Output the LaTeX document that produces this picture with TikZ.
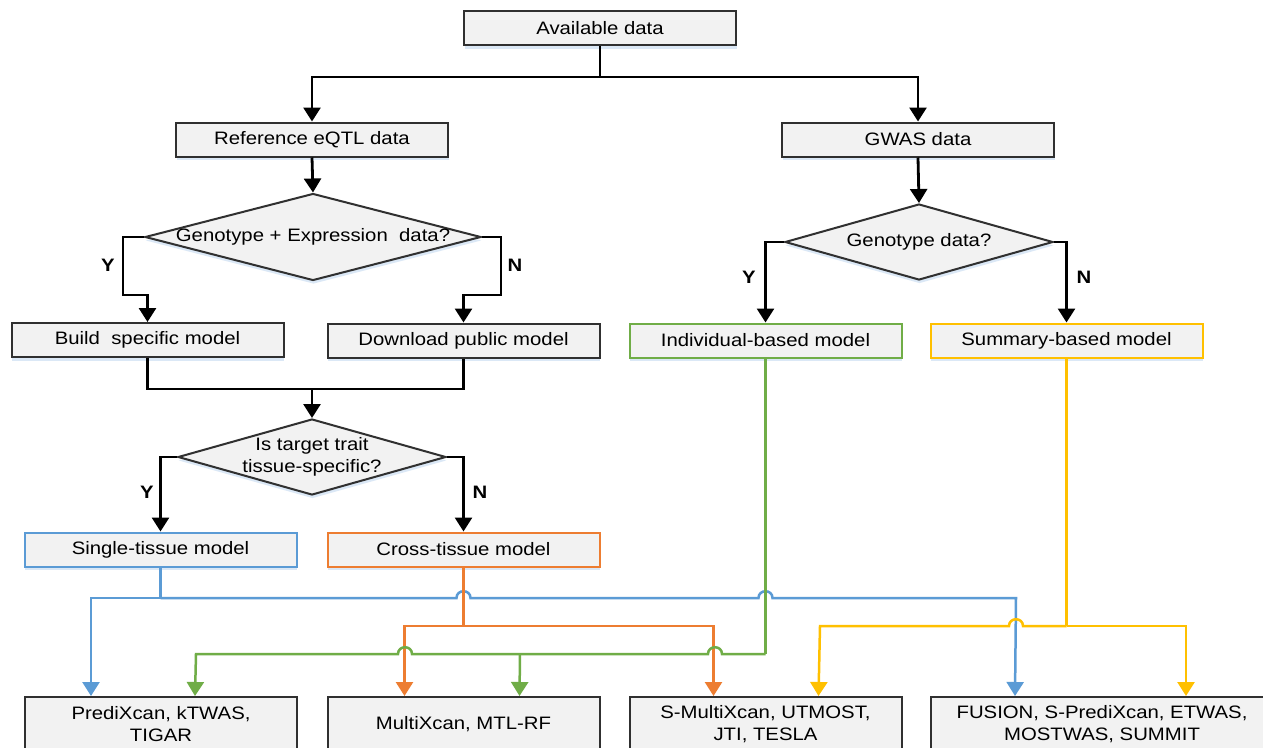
\documentclass[tikz,border=0pt]{standalone}
\usepackage{fontspec}
\setmainfont{Liberation Sans}[FakeStretch=1.13]
\usetikzlibrary{arrows.meta,shapes.geometric,shadows,calc}
\definecolor{boxfill}{HTML}{F2F2F2}
\definecolor{bordc}{HTML}{303030}
\definecolor{cblue}{HTML}{5B9BD5}
\definecolor{corange}{HTML}{ED7D31}
\definecolor{cgreen}{HTML}{70AD47}
\definecolor{cyellow}{HTML}{FFC000}
\definecolor{shadc}{HTML}{D3E3F4}
\tikzset{
  mainfont/.style={font=\fontsize{18}{22}\selectfont},
  softshadow/.style={drop shadow={shadow xshift=0.5pt,shadow yshift=-3.5pt,fill=shadc,opacity=0.8}},
  box/.style={rectangle,draw=bordc,line width=2pt,fill=boxfill,minimum width=272pt,minimum height=34pt,inner sep=0pt,mainfont,softshadow,align=center},
  dia/.style={diamond,draw=bordc,line width=2pt,fill=boxfill,inner sep=0pt,softshadow},
  dtext/.style={inner sep=0pt,mainfont,align=center},
  yn/.style={inner sep=0pt,font=\fontsize{18}{22}\selectfont\bfseries},
  conn/.style={line width=2.8pt,black},
  arr/.style={-{Triangle[width=17pt,length=14pt]}},
  bl/.style={line width=2.5pt,cblue},
  og/.style={line width=2.5pt,corange},
  gn/.style={line width=2.5pt,cgreen},
  yw/.style={line width=2.5pt,cyellow}
}
\begin{document}
\begin{tikzpicture}[x=1pt,y=-1pt]
\useasboundingbox[fill=white] (0,0) rectangle (1263,747);

% boxes
\node[box] (avail) at (600,28) {Available data};
\node[box] (ref) at (312,139.5) {Reference eQTL data};
\node[box] (gwas) at (918,139.5) {GWAS data};
\node[dia,minimum width=336pt,minimum height=87pt] (d1) at (313,237) {};
\node[dtext] (d1t) at (d1) {Genotype + Expression\ \ data?};
\node[dia,minimum width=268pt,minimum height=76pt] (d2) at (919,242) {};
\node[dtext] (d2t) at (d2) {Genotype data?};
\node[box] (build) at (147.5,340) {Build\ \ specific model};
\node[box] (down) at (463.5,340.5) {Download public model};
\node[box,draw=cgreen] (indiv) at (765.5,340.5) {Individual-based model};
\node[box,draw=cyellow] (summ) at (1066.5,340.5) {Summary-based model};
\node[dia,minimum width=268pt,minimum height=76pt] (d3) at (312,457) {};
\node[dtext] (d3t) at (d3) {Is target trait\\tissue-specific?};
\node[box,draw=cblue] (single) at (160.5,549.5) {Single-tissue model};
\node[box,draw=corange] (cross) at (463.5,549.5) {Cross-tissue model};
\node[box,minimum height=54pt] (pred) at (161,724) {PrediXcan, kTWAS,\\TIGAR};
\node[box,minimum height=54pt] (multi) at (463.5,724) {MultiXcan, MTL-RF};
\node[box,minimum height=54pt] (smulti) at (765.5,724) {S-MultiXcan, UTMOST,\\JTI, TESLA};
\node[box,minimum height=54pt,minimum width=342pt] (fusion) at (1102,724) {FUSION, S-PrediXcan, ETWAS,\\MOSTWAS, SUMMIT};

% black connectors
\coordinate (j0) at (600,77);
\draw[conn] (avail.south) -- (j0);
\draw[conn,arr] (j0) -| (ref.north);
\draw[conn,arr] (j0) -| (gwas.north);
\draw[conn,arr] (ref.south) -- (d1.north);
\draw[conn,arr] (gwas.south) -- (d2.north);
\draw[conn,arr] (d1.west) -| (123,295) -| (build.north);
\draw[conn,arr] (d1.east) -| (501,295) -| (down.north);
\node[yn] (y1) at (108,265) {Y};
\node[yn] (n1) at (515,265) {N};
\coordinate (j1) at (312,389);
\draw[conn] (build.south) |- (j1) -| (down.south);
\draw[conn,arr] (j1) -- (d3.north);
\draw[conn,arr] (d3.west) -| (single.north);
\draw[conn,arr] (d3.east) -| (cross.north);
\node[yn] (y3) at (147,492) {Y};
\node[yn] (n3) at (480,492) {N};
\draw[conn,arr] (d2.west) -| (indiv.north);
\draw[conn,arr] (d2.east) -| (summ.north);
\node[yn] (y2) at (749,277) {Y};
\node[yn] (n2) at (1084,277) {N};

% blue
\coordinate (bj) at (160.5,598);
\draw[bl] (single.south) -- (bj);
\draw[bl,arr] (bj) -| ($(pred.north west)+(67,0)$);
\draw[bl,arr] (bj) -- (456.5,598) .. controls (456.5,589) and (470.5,589) .. (470.5,598)
  -- (758.5,598) .. controls (758.5,589) and (772.5,589) .. (772.5,598)
  -- (1016,598) -- ($(fusion.north west)+(85,0)$);

% orange
\coordinate (oj) at (463.5,626);
\draw[og] (cross.south) -- (oj);
\draw[og,arr] (oj) -| ($(multi.north west)+(78,0)$);
\draw[og,arr] (oj) -| ($(smulti.north west)+(85,0)$);

% green
\coordinate (gj) at (765.5,654);
\coordinate (gm) at (520,654);
\draw[gn] (indiv.south) -- (gj);
\draw[gn,arr] (gj) -- (722,654) .. controls (722,645) and (708,645) .. (708,654)
  -- (412,654) .. controls (412,645) and (398,645) .. (398,654)
  -- (196,654) -- ($(pred.north west)+(171,0)$);
\draw[gn,arr] (gm) -- ($(multi.north west)+(193,0)$);

% yellow
\coordinate (yj) at (1066.5,626);
\draw[yw] (summ.south) -- (yj);
\draw[yw,arr] (yj) -- (1023,626) .. controls (1023,617) and (1009,617) .. (1009,626)
  -- (820,626) -- ($(smulti.north west)+(190,0)$);
\draw[yw,arr] (yj) -| ($(fusion.north west)+(256,0)$);
\end{tikzpicture}
\end{document}
